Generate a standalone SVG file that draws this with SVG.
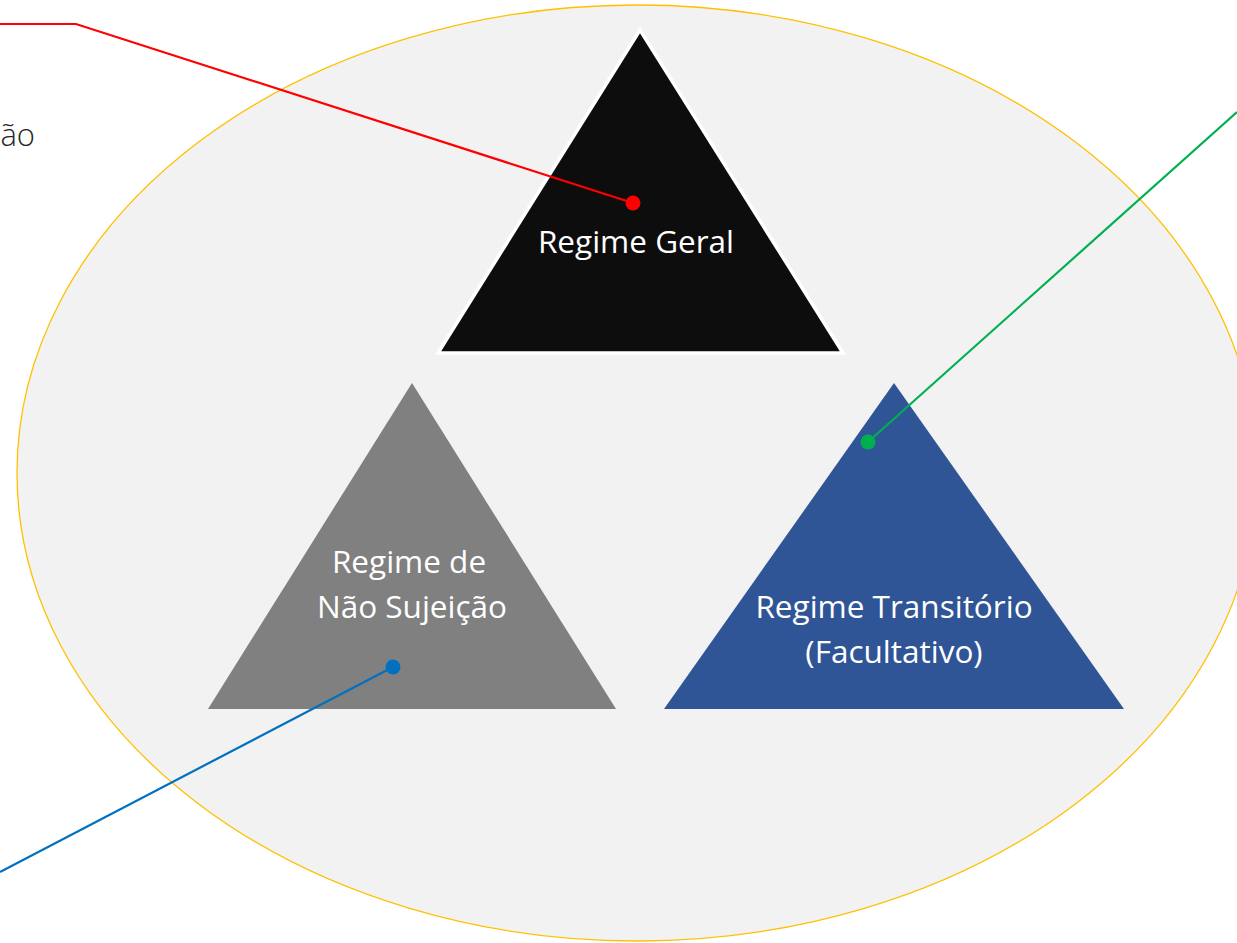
<svg xmlns="http://www.w3.org/2000/svg" width="1237" height="943" viewBox="0 0 1237 943">
<style>
.lbl{font-family:"Open Sans","Liberation Sans",sans-serif;font-weight:400;font-size:31.5px;fill:#ffffff;text-anchor:middle}
.side{font-family:"Open Sans","Liberation Sans",sans-serif;font-weight:300;font-size:31px;fill:#262626}
.con{fill:none;stroke-width:2.2}
</style>
<rect width="1237" height="943" fill="#ffffff"/>
<ellipse id="container" cx="637" cy="473" rx="620" ry="468" fill="#f2f2f2" stroke="#ffc000" stroke-width="1.3"/>
<text class="side" x="35" y="146" text-anchor="end">ão</text>
<g id="regime-geral">
<polygon points="640,30 438,353 843,353" fill="#0d0d0d" stroke="#ffffff" stroke-width="3.5"/>
<text class="lbl" x="636" y="253">Regime Geral</text>
</g>
<g id="regime-nao-sujeicao">
<polygon points="412,383 208,709 616,709" fill="#808080"/>
<text class="lbl" x="409" y="573">Regime de</text>
<text class="lbl" x="412" y="618">Não Sujeição</text>
</g>
<g id="regime-transitorio">
<polygon points="894,383 664,709 1124,709" fill="#2f5597"/>
<text class="lbl" x="894" y="618">Regime Transitório</text>
<text class="lbl" x="894" y="663">(Facultativo)</text>
</g>
<g id="connectors">
<polyline class="con" points="0,24 76,24 633,203" stroke="#ff0000"/>
<circle cx="633" cy="203" r="7.5" fill="#ff0000"/>
<line class="con" x1="1237" y1="112" x2="868" y2="442" stroke="#00b050"/>
<circle cx="868" cy="442" r="7.5" fill="#00b050"/>
<line class="con" x1="0" y1="872" x2="393" y2="667" stroke="#0070c0"/>
<circle cx="393" cy="667" r="7.5" fill="#0070c0"/>
</g>
</svg>
